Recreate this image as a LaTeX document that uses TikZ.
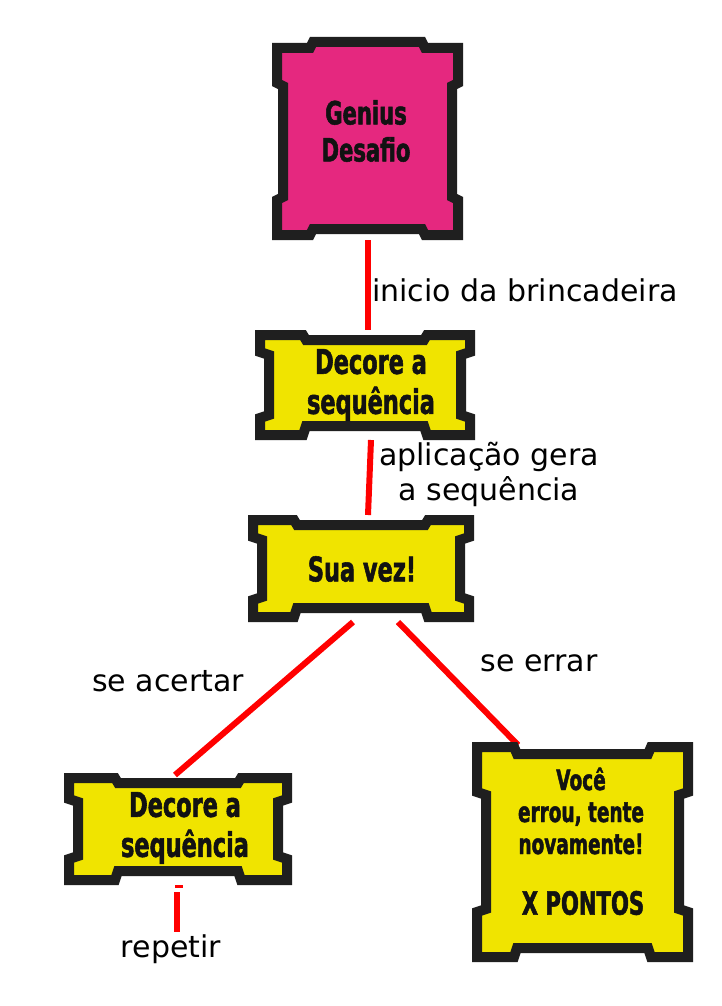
\documentclass[tikz,border=0pt]{standalone}
\usepackage{fontspec}
\setmainfont{DejaVu Sans}
\newfontfamily\impact{DejaVu Sans}[FakeStretch=0.66, BoldFeatures={FakeBold=1.6}]
\definecolor{boxdark}{HTML}{1F1F1F}
\definecolor{boxtextc}{HTML}{121212}
\definecolor{boxpink}{HTML}{E5287F}
\definecolor{boxyellow}{HTML}{F0E400}
\definecolor{linkred}{HTML}{FF0000}
\newcommand\boneshape[9]{%
 \filldraw[line width=10pt, line join=miter, draw=boxdark, fill=#9]
  ({#1+5},{#2+5}) -- ({#1+#5},{#2+5}) -- ({#1+#5+3},{#2+5+#7}) -- ({#3-#5-3},{#2+5+#7}) -- ({#3-#5},{#2+5}) -- ({#3-5},{#2+5})
  -- ({#3-5},{#2+#6}) -- ({#3-5-#8},{#2+#6+3}) -- ({#3-5-#8},{#4-#6-3}) -- ({#3-5},{#4-#6}) -- ({#3-5},{#4-5})
  -- ({#3-#5},{#4-5}) -- ({#3-#5-3},{#4-5-#8}) -- ({#1+#5+3},{#4-5-#8}) -- ({#1+#5},{#4-5}) -- ({#1+5},{#4-5})
  -- ({#1+5},{#4-#6}) -- ({#1+5+#8},{#4-#6-3}) -- ({#1+5+#8},{#2+#6+3}) -- ({#1+5},{#2+#6}) -- cycle;
}
\tikzset{
  boxnode/.style={draw=none, inner sep=0pt, outer sep=0pt},
  boxtext/.style={align=center, inner sep=0pt, text=boxtextc, font=\impact\bfseries\fontsize{34}{40}\selectfont},
  lbl/.style={align=center, inner sep=0pt, text=black, font=\fontsize{30}{35}\selectfont},
  redline/.style={draw=linkred, line width=6pt},
}
\begin{document}
\begin{tikzpicture}[x=1pt,y=-1pt]
\fill[white] (0,0) rectangle (721,1006);
\useasboundingbox (0,0) rectangle (721,1006);

% box anchors
\node[boxnode, minimum width=191pt, minimum height=203pt] (gen) at (367.5,138.5) {};
\node[boxnode, minimum width=220pt, minimum height=110pt] (dec1) at (365,385) {};
\node[boxnode, minimum width=226pt, minimum height=107pt] (sua) at (361,568.5) {};
\node[boxnode, minimum width=228pt, minimum height=112pt] (dec2) at (178,829) {};
\node[boxnode, minimum width=221pt, minimum height=220pt] (voce) at (582.5,852) {};
\node[lbl] (rep) at (171,949) {repetir};
\coordinate (repend) at (176.5,932);

% connectors (behind boxes)
\draw[redline] (gen.south) -- (gen.south |- dec1.north);
\draw[redline] ([xshift=6pt]dec1.south) -- ([xshift=7pt]sua.north);
\draw[redline] ([xshift=-8pt]sua.south) -- ([xshift=-3pt,yshift=-2pt]dec2.north);
\draw[redline] ([xshift=37pt]sua.south) -- ([xshift=46pt,yshift=-3pt]voce.north west);
\draw[draw=linkred, line width=3pt] ([xshift=-3pt,yshift=-1.5pt]dec2.south) -- ++(8,0);
\draw[redline] ([xshift=-1.5pt,yshift=-7pt]dec2.south) -- (repend);

% boxes
\boneshape{272}{43}{463}{240}{38}{40}{-6}{6}{boxpink}
\boneshape{255}{330}{475}{440}{48}{22}{5}{9}{boxyellow}
\boneshape{248}{515}{474}{622}{46}{22}{5}{9}{boxyellow}
\boneshape{64}{773}{292}{885}{51}{26}{5}{9}{boxyellow}
\boneshape{472}{742}{693}{962}{42}{50}{7}{9}{boxyellow}

% box texts
\node[boxtext, font=\impact\bfseries\fontsize{32}{37}\selectfont] (gent) at (366,131) {Genius\\Desafio};
\node[boxtext] (dec1t) at (371,385) {Decore a\\sequência};
\node[boxtext] (suat) at (362,569) {Sua vez!};
\node[boxtext] (dec2t) at (185,828) {Decore a\\sequência};
\node[boxtext, font=\impact\bfseries\fontsize{28}{32}\selectfont] (vocet) at (581,811) {Você\\errou, tente\\novamente!};
\node[boxtext, font=\impact\bfseries\fontsize{32}{37}\selectfont] (xpt) at (583,903) {X PONTOS};

% labels
\node[lbl, anchor=west] (l1) at (372,290) {inicio da brincadeira};
\node[lbl] (l2) at (489,474) {aplicação gera\\a sequência};
\node[lbl] (l3) at (168,681) {se acertar};
\node[lbl] (l4) at (539,663) {se errar};
\end{tikzpicture}
\end{document}
